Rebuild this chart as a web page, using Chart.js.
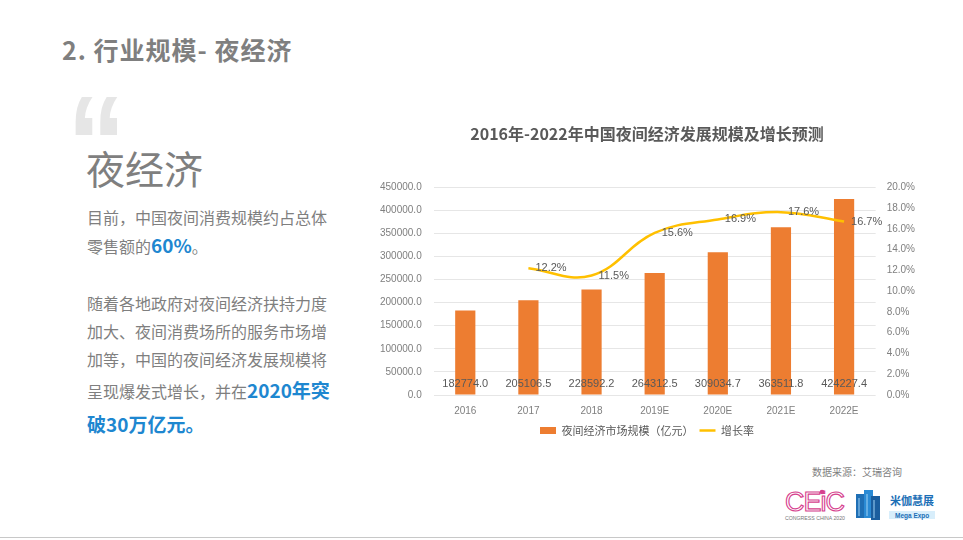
<!DOCTYPE html>
<html>
<head>
<meta charset="utf-8">
<script src="https://cdn.jsdelivr.net/npm/chart.js@4.4.0/dist/chart.umd.min.js"></script>
<style>
  html, body { margin: 0; padding: 0; background: #fff; }
  body { width: 963px; height: 540px; position: relative; overflow: hidden;
         font-family: "Noto Sans CJK SC", "Noto Sans", sans-serif; }
  .slide-line { position: absolute; left: 0; top: 537px; width: 963px; height: 1px; background: #c8c8c8; }
  .head { position: absolute; left: 62px; top: 31px; font-size: 25px; font-weight: bold; color: #7f7f7f; letter-spacing: 1px; }
  .quote { position: absolute; left: 67px; top: 76px; font-family: "Liberation Sans", sans-serif;
           font-size: 134px; font-weight: bold; color: #e6e6e6; line-height: 1; transform: scaleX(0.88); transform-origin: left top; }
  .big { position: absolute; left: 86px; top: 144px; font-size: 39px; color: #7f7f7f; line-height: 1.2; }
  .txt { position: absolute; left: 87px; width: 250px; font-size: 16px; color: #7f7f7f; }
  .txt div { height: 28px; line-height: 28px; white-space: nowrap; }
  .blue { color: #1e87d0; font-weight: bold; font-size: 19px; }
  .src { position: absolute; left: 812px; top: 464px; font-size: 10px; color: #7f7f7f; }
  #wrap { position: absolute; left: 352px; top: 111px; width: 576px; height: 335px; }
</style>
</head>
<body>
<div class="head">2. 行业规模- 夜经济</div>
<div class="quote">“</div>
<div class="big">夜经济</div>
<div class="txt" style="top:203px">
  <div>目前，中国夜间消费规模约占总体</div>
  <div>零售额的<span class="blue">60%</span>。</div>
</div>
<div class="txt" style="top:289px">
  <div>随着各地政府对夜间经济扶持力度</div>
  <div>加大、夜间消费场所的服务市场增</div>
  <div>加等，中国的夜间经济发展规模将</div>
  <div style="height:34px;line-height:34px">呈现爆发式增长，并在<span class="blue">2020年突</span></div>
  <div style="height:34px;line-height:34px"><span class="blue">破30万亿元。</span></div>
</div>
<div id="wrap"><canvas id="chart"></canvas></div>
<div class="src">数据来源：艾瑞咨询</div>
<div class="slide-line"></div>
<svg style="position:absolute;left:780px;top:484px" width="160" height="44">
  <text x="5" y="27" font-family="Liberation Sans" font-size="27" fill="none" stroke="#d6418e" stroke-width="1.1" letter-spacing="-1">CEiC</text>
  <circle cx="42" cy="8" r="2.3" fill="#d6418e"/>
  <text x="5" y="36" font-family="Liberation Sans" font-size="5.2" fill="#777">CONGRESS CHINA 2020</text>
  <g transform="translate(76,6)">
    <rect x="0" y="4" width="9" height="24" fill="#1f6fb5"/>
    <rect x="8" y="0" width="9" height="28" fill="#2a8ad4"/>
    <rect x="15" y="6" width="9" height="24" fill="#1b5e9e"/>
    <path d="M3 8 L3 26 M11 4 L11 26 M18 10 L18 28" stroke="#9fd2f5" stroke-width="1"/>
  </g>
  <text x="110" y="21" font-family="Noto Sans CJK SC" font-size="11" font-weight="bold" fill="#1c6fb6">米伽慧展</text>
  <rect x="109" y="27" width="46" height="8" fill="#d8eefb"/>
  <text x="115" y="34" font-family="Liberation Sans" font-size="6.5" font-weight="bold" fill="#1c6fb6">Mega Expo</text>
</svg>
<script>
const years = ["2016", "2017", "2018", "2019E", "2020E", "2021E", "2022E"];
const marketSize = [182774.0, 205106.5, 228592.2, 264312.5, 309034.7, 363511.8, 424227.4];
const growthRate = [null, 12.2, 11.5, 15.6, 16.9, 17.6, 16.7];
const leftTicks = [0, 450000, 50000];
const rightTicks = [0, 20, 2];

// value labels, drawn by hand (no datalabels plugin here)
const valueLabels = {
  id: "valueLabels",
  afterDatasetsDraw(chart) {
    const ctx = chart.ctx;
    ctx.save();
    ctx.font = "11px 'Liberation Sans', sans-serif";
    ctx.fillStyle = "#595959";
    const y0 = chart.scales.y.getPixelForValue(0);
    chart.getDatasetMeta(0).data.forEach(function (bar, i) {
      ctx.textAlign = "center";
      ctx.textBaseline = "middle";
      ctx.fillText(marketSize[i].toFixed(1), bar.x, y0 - 11);
    });
    chart.getDatasetMeta(1).data.forEach(function (pt, i) {
      if (growthRate[i] == null) return;
      ctx.textAlign = "left";
      ctx.textBaseline = "middle";
      ctx.fillText(growthRate[i].toFixed(1) + "%", pt.x + 7, pt.y);
    });
    ctx.restore();
  }
};

new Chart(document.getElementById("chart"), {
  data: {
    labels: years,
    datasets: [
      {
        type: "bar",
        label: "夜间经济市场规模（亿元）",
        data: marketSize,
        backgroundColor: "#ed7d31",
        barPercentage: 0.64,
        categoryPercentage: 0.5,
        pointStyle: "rect",
        yAxisID: "y",
        order: 2
      },
      {
        type: "line",
        label: "增长率",
        data: growthRate,
        borderColor: "#ffc000",
        backgroundColor: "#ffc000",
        borderWidth: 2.5,
        pointRadius: 0,
        pointStyle: "line",
        tension: 0.4,
        yAxisID: "y1",
        order: 1
      }
    ]
  },
  options: {
    responsive: true,
    maintainAspectRatio: false,
    animation: false,
    layout: { padding: { left: 16, right: 2, top: 0, bottom: 0 } },
    plugins: {
      title: {
        display: true,
        text: "2016年-2022年中国夜间经济发展规模及增长预测",
        color: "#595959",
        font: { size: 16, weight: "bold", family: "'Noto Sans CJK SC', sans-serif" },
        padding: { top: 13, bottom: 44 }
      },
      legend: {
        position: "bottom",
        labels: {
          usePointStyle: true,
          pointStyleWidth: 16,
          boxHeight: 7,
          color: "#595959",
          padding: 6,
          font: { size: 11, family: "'Noto Sans CJK SC', sans-serif" },
          sort: function (a, b) { return a.datasetIndex - b.datasetIndex; }
        }
      },
      tooltip: { enabled: false }
    },
    scales: {
      x: {
        grid: { display: false },
        border: { display: false },
        ticks: { color: "#7f7f7f", font: { size: 10, family: "'Liberation Sans', sans-serif" }, padding: 2 }
      },
      y: {
        position: "left",
        min: leftTicks[0],
        max: leftTicks[1],
        ticks: {
          stepSize: leftTicks[2],
          color: "#7f7f7f",
          padding: 12,
          font: { size: 10, family: "'Liberation Sans', sans-serif" },
          callback: function (v) { return v.toFixed(1); }
        },
        grid: { color: "#e6e6e6", drawTicks: false },
        border: { display: false }
      },
      y1: {
        position: "right",
        min: rightTicks[0],
        max: rightTicks[1],
        ticks: {
          stepSize: rightTicks[2],
          color: "#7f7f7f",
          padding: 11,
          font: { size: 10, family: "'Liberation Sans', sans-serif" },
          callback: function (v) { return v.toFixed(1) + "%"; }
        },
        grid: { display: false, drawTicks: false },
        border: { display: false }
      }
    }
  },
  plugins: [valueLabels]
});
</script>
</body>
</html>
